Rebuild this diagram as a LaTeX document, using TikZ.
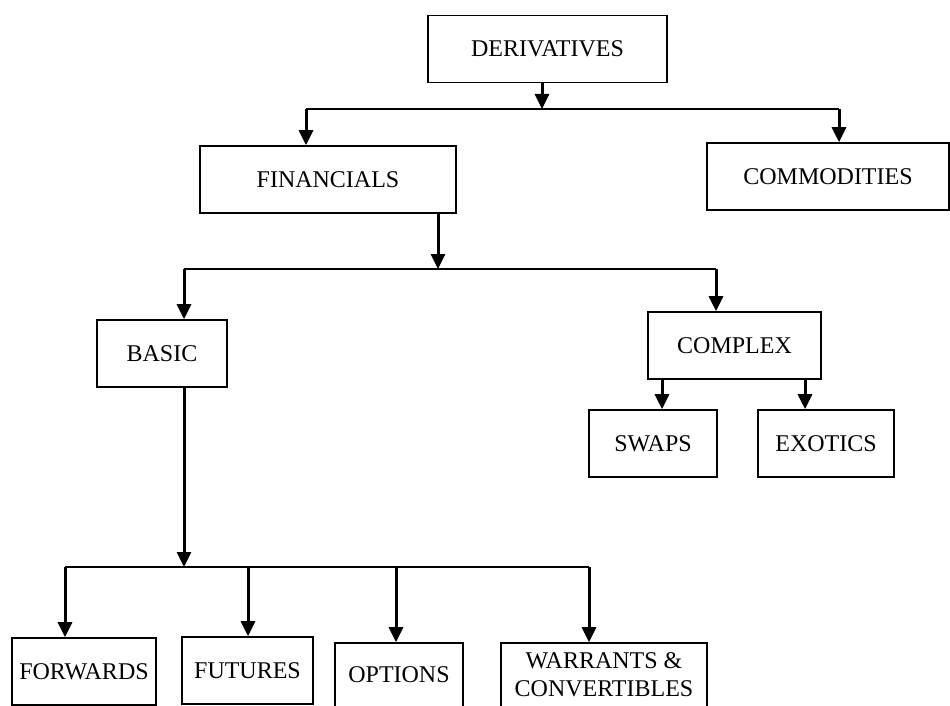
\documentclass[tikz,border=0pt]{standalone}
\usepackage{fontspec}
\setmainfont{Liberation Serif}
\usetikzlibrary{arrows.meta}

\tikzset{
    box/.style={draw, line width=1.6pt, minimum height=67pt, inner sep=2pt,
        align=center, font=\fontsize{24}{28}\selectfont},
    arr/.style={line width=3pt, -{Triangle[width=14pt,length=15pt]}},
    bar/.style={line width=1.6pt},
}

\begin{document}
\begin{tikzpicture}[x=1pt,y=-1pt]
    \useasboundingbox (0,0) rectangle (950,706);

    % boxes
    \node[box, minimum width=239pt] (deriv) at (547.5,49) {DERIVATIVES};
    \node[box, minimum width=256pt] (fin) at (328,179.5) {FINANCIALS};
    \node[box, minimum width=242pt] (comm) at (828,176.5) {COMMODITIES};
    \node[box, minimum width=130pt] (basic) at (162,353.5) {BASIC};
    \node[box, minimum width=173pt] (complex) at (734.5,345.5) {COMPLEX};
    \node[box, minimum width=128pt] (swaps) at (653,443.5) {SWAPS};
    \node[box, minimum width=136pt] (exotics) at (826,443.5) {EXOTICS};
    \node[box, minimum width=144pt] (fwd) at (84,671.5) {FORWARDS};
    \node[box, minimum width=131pt] (fut) at (247.5,670.5) {FUTURES};
    \node[box, minimum width=128pt, minimum height=64pt] (opt) at (399,675) {OPTIONS};
    \node[box, minimum width=206pt, minimum height=64pt] (warr) at (604,675) {WARRANTS \&\\CONVERTIBLES};

    % first level
    \coordinate (j1) at (542,109);
    \coordinate (b1l) at (306,109);
    \coordinate (b1r) at (839,109);
    \draw[bar] (b1l) -- (b1r);
    \draw[arr] (deriv.south -| j1) -- (j1);
    \draw[arr] (b1l) -- (b1l |- fin.north);
    \draw[arr] (b1r) -- (b1r |- comm.north);

    % financials
    \coordinate (j2) at (438,269);
    \coordinate (b2l) at (184,269);
    \coordinate (b2r) at (716,269);
    \draw[bar] (b2l) -- (b2r);
    \draw[arr] (fin.south -| j2) -- (j2);
    \draw[arr] (b2l) -- (b2l |- basic.north);
    \draw[arr] (b2r) -- (b2r |- complex.north);

    % complex
    \coordinate (c1) at (662,0);
    \coordinate (c2) at (805,0);
    \draw[arr] (complex.south -| c1) -- (swaps.north -| c1);
    \draw[arr] (complex.south -| c2) -- (exotics.north -| c2);

    % basic
    \coordinate (j3) at (184,567);
    \coordinate (b3a) at (65,567);
    \coordinate (b3b) at (248,567);
    \coordinate (b3c) at (396,567);
    \coordinate (b3d) at (589,567);
    \draw[bar] (b3a) -- (b3d);
    \draw[arr] (basic.south -| j3) -- (j3);
    \draw[arr] (b3a) -- (b3a |- fwd.north);
    \draw[arr] (b3b) -- (b3b |- fut.north);
    \draw[arr] (b3c) -- (b3c |- opt.north);
    \draw[arr] (b3d) -- (b3d |- warr.north);
\end{tikzpicture}
\end{document}
